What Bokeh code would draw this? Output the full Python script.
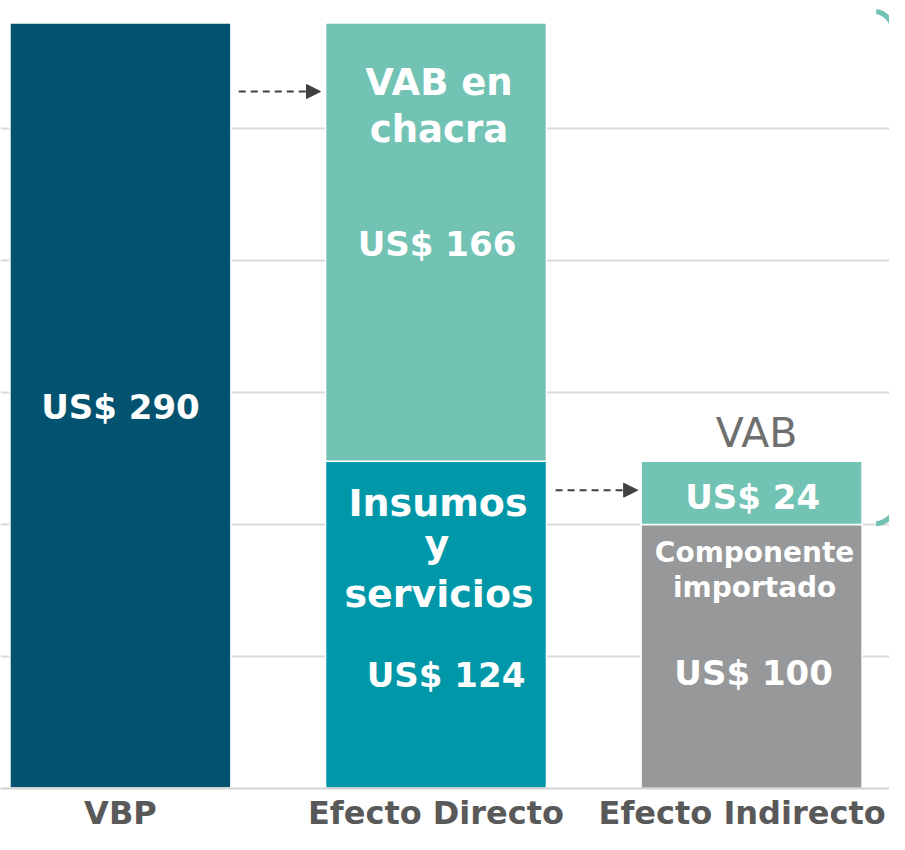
from bokeh.plotting import figure
from bokeh.models import FixedTicker, Arrow, NormalHead, Range1d
from bokeh.core.properties import value
from bokeh.embed import file_html
from bokeh.resources import INLINE

# ---- data ----
categories = ["VBP", "Efecto Directo", "Efecto Indirecto"]
vbp = [290, 0, 0]
insumos = [0, 124, 0]
vab_directo = [0, 166, 0]
importado = [0, 0, 100]
vab_indirecto = [0, 0, 24]
grid_ticks = [50, 100, 150, 200, 250]

C_VBP = "#03526f"
C_INS = "#0098a8"
C_VAB = "#72c3b4"
C_IMP = "#97989a"
FONT = value("DejaVu Sans")

xs = list(range(len(categories)))
W = 0.7

p = figure(width=889, height=834, output_backend="svg", toolbar_location=None,
           x_range=Range1d(-0.380, 2.437), y_range=Range1d(0, 298.48),
           min_border_left=0, min_border_right=0, min_border_top=0, min_border_bottom=46)
p.outline_line_color = None
p.background_fill_color = "white"
p.yaxis.visible = False
p.xgrid.visible = False
p.ygrid.ticker = FixedTicker(ticks=grid_ticks)
p.ygrid.grid_line_color = "#d9d9d9"
p.ygrid.grid_line_width = 2

# category axis (baseline)
tick_pos = [0, 1, 1.97]
ax = p.xaxis[0]
ax.ticker = FixedTicker(ticks=tick_pos)
ax.major_label_overrides = {t: c for t, c in zip(tick_pos, categories)}
ax.major_label_text_font = "DejaVu Sans"
ax.major_label_text_font_style = "bold"
ax.major_label_text_font_size = "32px"
ax.major_label_text_color = "#595959"
ax.major_tick_line_color = None
ax.minor_tick_line_color = None
ax.major_tick_out = 0
ax.major_tick_in = 0
ax.major_label_standoff = 5
ax.axis_line_color = "#d4d4d4"
ax.axis_line_width = 2

# ---- bars (stacked) ----
b1 = [0] * 3
t1 = [b + v for b, v in zip(b1, vbp)]
p.vbar(x=xs, bottom=b1, top=t1, width=W, fill_color=C_VBP, line_color="white", line_width=1.5)
b2 = [0] * 3
t2 = [b + v for b, v in zip(b2, insumos)]
p.vbar(x=xs, bottom=b2, top=t2, width=W, fill_color=C_INS, line_color="white", line_width=1.5)
t3 = [b + v for b, v in zip(t2, vab_directo)]
p.vbar(x=xs, bottom=t2, top=t3, width=W, fill_color=C_VAB, line_color="white", line_width=1.5)
b4 = [0] * 3
t4 = [b + v for b, v in zip(b4, importado)]
p.vbar(x=xs, bottom=b4, top=t4, width=W, fill_color=C_IMP, line_color="white", line_width=1.5)
t5 = [b + v for b, v in zip(t4, vab_indirecto)]
p.vbar(x=xs, bottom=t4, top=t5, width=W, fill_color=C_VAB, line_color="white", line_width=1.5)


# ---- labels ----
def lab(x, y, txt, size, yoff, xoff=0, color="white", style="bold", align="center"):
    corr = round(0.27 * size) + 3
    p.text(x=[x], y=[y], text=[txt], text_font=FONT, text_font_style=style,
           text_font_size=f"{size}px", text_color=color, text_align=align,
           text_baseline="alphabetic", y_offset=yoff - corr, x_offset=xoff)


lab(0, vbp[0] / 2, f"US$ {vbp[0]}", 34, 13)

top_d = t3[1]
lab(1, top_d, "VAB en", 37, 73, 3)
lab(1, top_d, "chacra", 37, 120, 3)
lab(1, top_d, f"US$ {vab_directo[1]}", 34, 233, 1)

top_i = t2[1]
lab(1, top_i, "Insumos", 38, 55, 2)
lab(1, top_i, "y", 38, 96, 1)
lab(1, top_i, "servicios", 38, 146, 3)
lab(1, top_i, f"US$ {insumos[1]}", 34, 226, 10)

top_imp = t4[2]
lab(2, top_imp, "Componente", 28, 39, 3)
lab(2, top_imp, "importado", 28, 74, 3)
lab(2, top_imp, f"US$ {importado[2]}", 34, 161, 2)
lab(2, (t4[2] + t5[2]) / 2, f"US$ {vab_indirecto[2]}", 34, 16, 1)
lab(2, t5[2], "VAB", 41, -14, 5, color="#6f6f6f", style="normal")

# ---- dashed arrows ----
head_kw = dict(size=14, fill_color="#404040", line_color="#404040")
p.add_layout(Arrow(end=NormalHead(**head_kw), x_start=0 + W / 2 + 0.025, x_end=1 - W / 2 - 0.016,
                   y_start=264, y_end=264, line_color="#404040", line_width=2, line_dash="7 5"))
ya = t4[2] + 13
p.add_layout(Arrow(end=NormalHead(**head_kw), x_start=1 + W / 2 + 0.029, x_end=2 - W / 2 - 0.011,
                   y_start=ya, y_end=ya, line_color="#404040", line_width=2, line_dash="7 5"))

# ---- bracket on the right ----
bx = 2 + W / 2 + 0.045
p.bezier(x0=[bx, bx], y0=[t3[1] + 4.3, t4[2] + 0.3],
         x1=[bx + 0.09, bx + 0.09], y1=[t3[1] - 25, t4[2] + 25],
         cx0=[bx + 0.055, bx + 0.055], cy0=[t3[1] + 3.5, t4[2] + 1],
         cx1=[bx + 0.075, bx + 0.075], cy1=[t3[1] - 5, t4[2] + 6],
         line_color=C_VAB, line_width=5)

open("out.html", "w").write(file_html(p, INLINE))
